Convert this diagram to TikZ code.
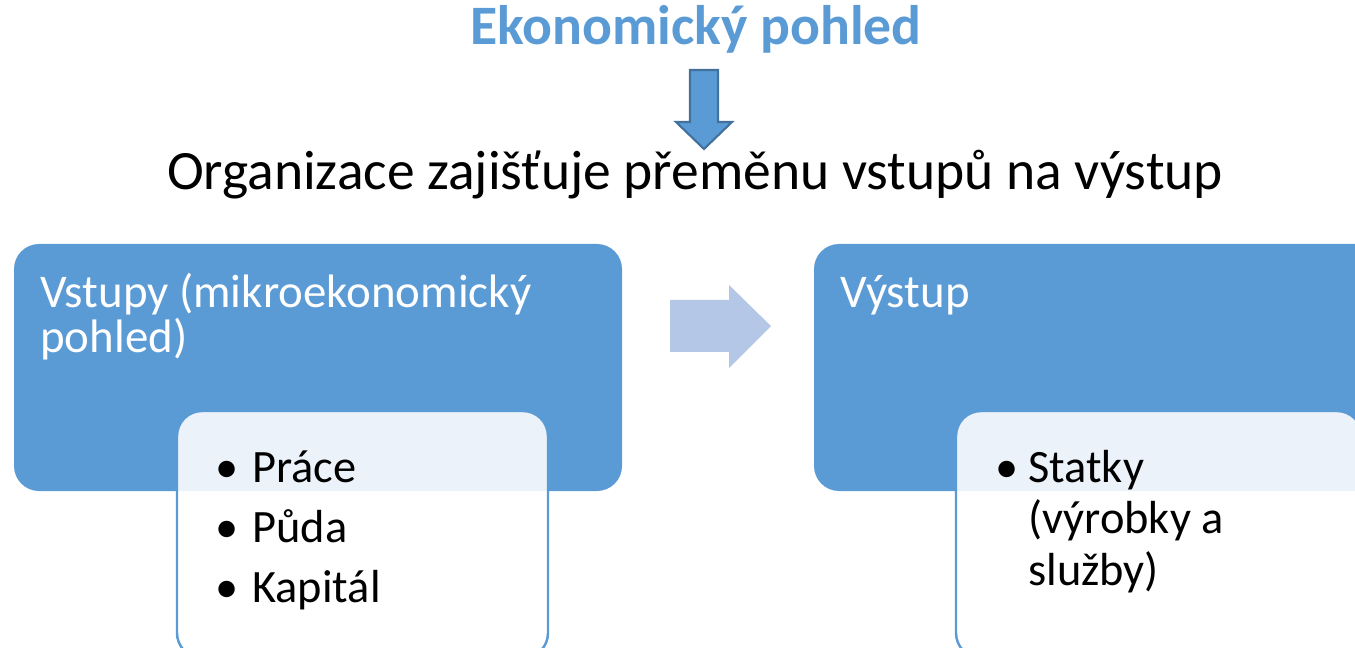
\documentclass[tikz,border=0pt]{standalone}
\usepackage{fontspec}
\setmainfont{Carlito}
\usetikzlibrary{calc}
\definecolor{accblue}{RGB}{91,155,213}
\definecolor{accdark}{RGB}{65,113,156}
\definecolor{acclight}{RGB}{180,199,231}
\tikzset{
  bigbox/.style={fill=accblue, draw=none, rounded corners=0.5cm},
  innerbox/.style={fill=white, fill opacity=0.88, draw=accblue, line width=1.4pt, rounded corners=0.5cm},
  headtext/.style={text=white, inner sep=0pt, anchor=base west, font=\fontsize{26.7}{30}\selectfont},
  itemtext/.style={text=black, inner sep=0pt, anchor=base west, font=\fontsize{26.4}{30}\selectfont}
}

\begin{document}
\begin{tikzpicture}[x=0.02cm, y=-0.02cm]
			%%%%% START %%%%%
			\useasboundingbox (0, 0) rectangle (1355, 648);
			\clip (0, 0) rectangle (1355, 648);
			
			\node[inner sep=0pt, anchor=base, text=accblue, font=\fontsize{31.7}{36}\selectfont\bfseries] (title) at (696, 45) {Ekonomický pohled};
			
			\draw[fill=accblue, draw=accdark, line width=1.2pt] (690, 70) -- (718, 70) -- (718, 122) -- (732, 122) -- (704, 149) -- (676, 122) -- (690, 122) -- cycle;
			
			\node[inner sep=0pt, anchor=base, text=black, font=\fontsize{31.6}{36}\selectfont] (sub) at (695, 190) {Organizace zajišťuje přeměnu vstupů na výstup};
			
			\draw[bigbox] (14, 244) rectangle (622, 491);
			\draw[bigbox] (814, 244) rectangle (1385, 491);
			
			\draw[fill=acclight, draw=none] (670, 300) -- (729, 300) -- (729, 285) -- (771, 326) -- (729, 368) -- (729, 352) -- (670, 352) -- cycle;
			
			\node[headtext] (in1) at (40, 308) {Vstupy (mikroekonomický};
			\node[headtext] (in2) at (40, 353) {pohled)};
			\node[headtext] (out1) at (840, 308) {Výstup};
			
			\draw[innerbox] (177, 411) rectangle (548, 658);
			\draw[innerbox] (956, 411) rectangle (1362, 658);
			
			\node[itemtext] (prace) at (215, 482) {\makebox[0.74cm][l]{•}Práce};
			\node[itemtext] (puda) at (215, 542) {\makebox[0.74cm][l]{•}Půda};
			\node[itemtext] (kapital) at (215, 602) {\makebox[0.74cm][l]{•}Kapitál};
			
			\node[itemtext] (statky) at (995, 482) {\makebox[0.66cm][l]{•}Statky};
			\node[itemtext] (statky2) at (1028, 533) {(výrobky a};
			\node[itemtext] (statky3) at (1028, 585) {služby)};
			
			%%%%% END %%%%%
		\end{tikzpicture}
\end{document}
